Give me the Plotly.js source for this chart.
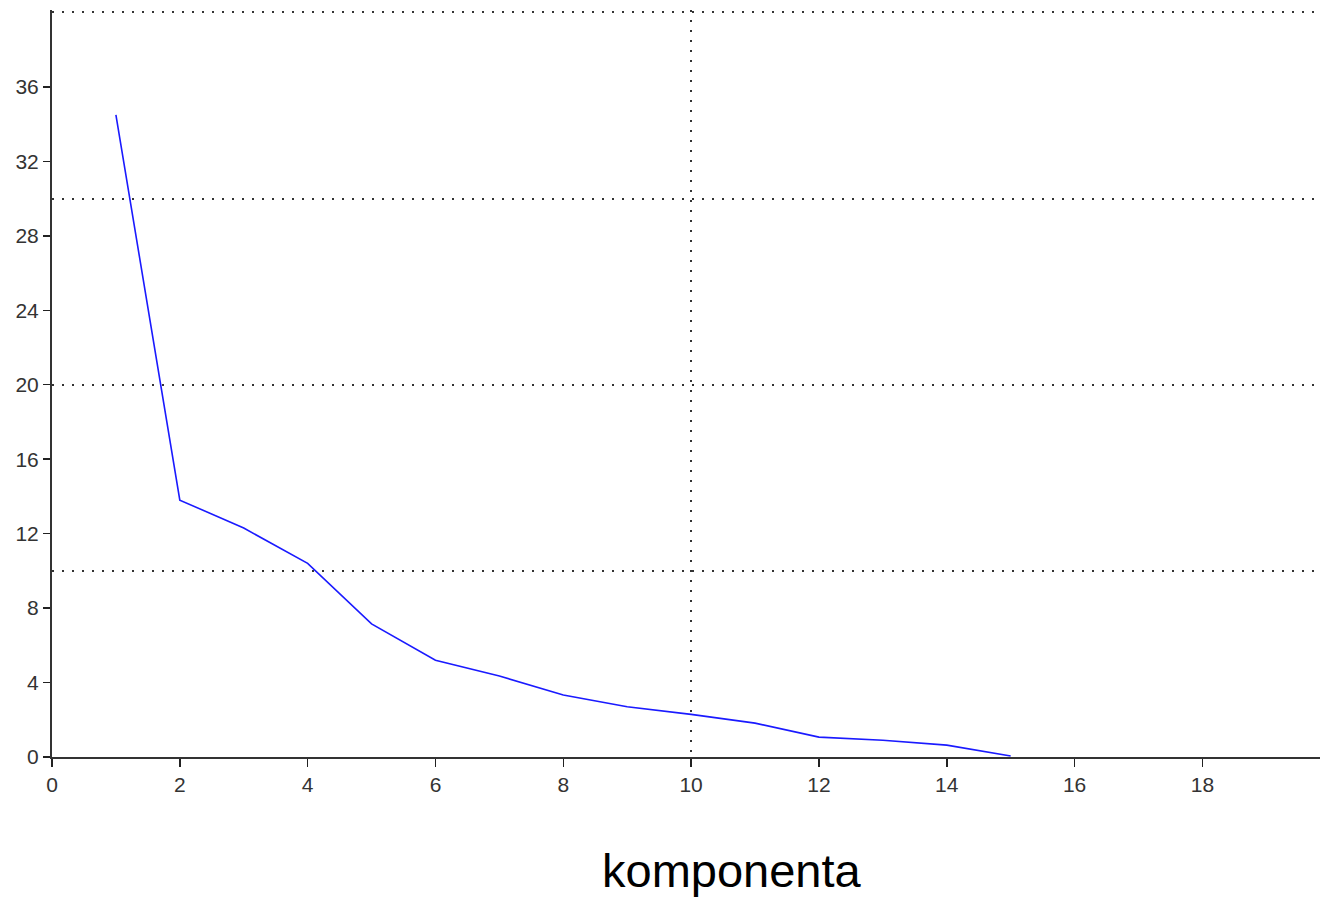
<!DOCTYPE html>
<html>
<head>
<meta charset="utf-8">
<script src="https://cdn.plot.ly/plotly-3.0.1.min.js"></script>
<style>html,body{margin:0;padding:0;background:#fff;}#chart{width:1320px;height:898px;}</style>
</head>
<body>
<div id="chart"></div>
<script>
// Component index and eigenvalue (scree plot)
const komponenta = [1, 2, 3, 4, 5, 6, 7, 8, 9, 10, 11, 12, 13, 14, 15];
const hodnota = [34.5, 13.8, 12.3, 10.4, 7.15, 5.2, 4.35, 3.33, 2.7, 2.29, 1.82, 1.07, 0.9, 0.64, 0.05];
const xTicks = [0, 2, 4, 6, 8, 10, 12, 14, 16, 18];
const yTicks = [0, 4, 8, 12, 16, 20, 24, 28, 32, 36];
const xGrid = [10];
const yGrid = [10, 20, 30, 40];
const xTitle = "komponenta";

const tickFont = {family: "Liberation Sans, Arial, sans-serif", size: 21, color: "#333"};
const xRange = [0, 19.84];
const yRange = [0, 40.13];

const data = [
  {x: komponenta, y: hodnota, type: "scatter", mode: "lines",
   line: {color: "#1a1aff", width: 1.6}, hoverinfo: "x+y", showlegend: false}
];

const layout = {
  width: 1320, height: 898,
  margin: {l: 52, r: 0, t: 10, b: 141, pad: 0},
  paper_bgcolor: "#fff", plot_bgcolor: "rgba(0,0,0,0)",
  showlegend: false,
  xaxis: {
    range: xRange, tickvals: xTicks, ticktext: xTicks.map(String),
    ticks: "outside", ticklen: 8, tickwidth: 1.5, tickcolor: "#222",
    showline: true, linecolor: "#333", linewidth: 2,
    showgrid: false, zeroline: false, tickfont: tickFont
  },
  yaxis: {
    range: yRange, tickvals: yTicks, ticktext: yTicks.map(String),
    ticks: "outside", ticklen: 7, tickwidth: 1.5, tickcolor: "#222",
    showline: true, linecolor: "#333", linewidth: 2,
    showgrid: false, zeroline: false, tickfont: tickFont
  },
  xaxis2: {
    overlaying: "x", matches: "x", range: xRange, tickvals: xGrid,
    showticklabels: false, ticks: "", showgrid: true,
    gridcolor: "#333", gridwidth: 2, griddash: "2px,8px", zeroline: false, showline: false
  },
  yaxis2: {
    overlaying: "y", matches: "y", range: yRange, tickvals: yGrid,
    showticklabels: false, ticks: "", showgrid: true,
    gridcolor: "#333", gridwidth: 2, griddash: "2px,8px", zeroline: false, showline: false
  },
  annotations: [
    {text: xTitle, xref: "paper", yref: "paper", x: 0.536, y: -0.19,
     xanchor: "center", yanchor: "bottom", showarrow: false,
     font: {family: "Liberation Sans, Arial, sans-serif", size: 47, color: "#000"}}
  ]
};

// invisible trace to activate the grid axes
data.push({x: [null], y: [null], xaxis: "x2", yaxis: "y2", type: "scatter", mode: "lines", showlegend: false, hoverinfo: "skip"});

Plotly.newPlot("chart", data, layout, {displayModeBar: false, staticPlot: true});
</script>
</body>
</html>
